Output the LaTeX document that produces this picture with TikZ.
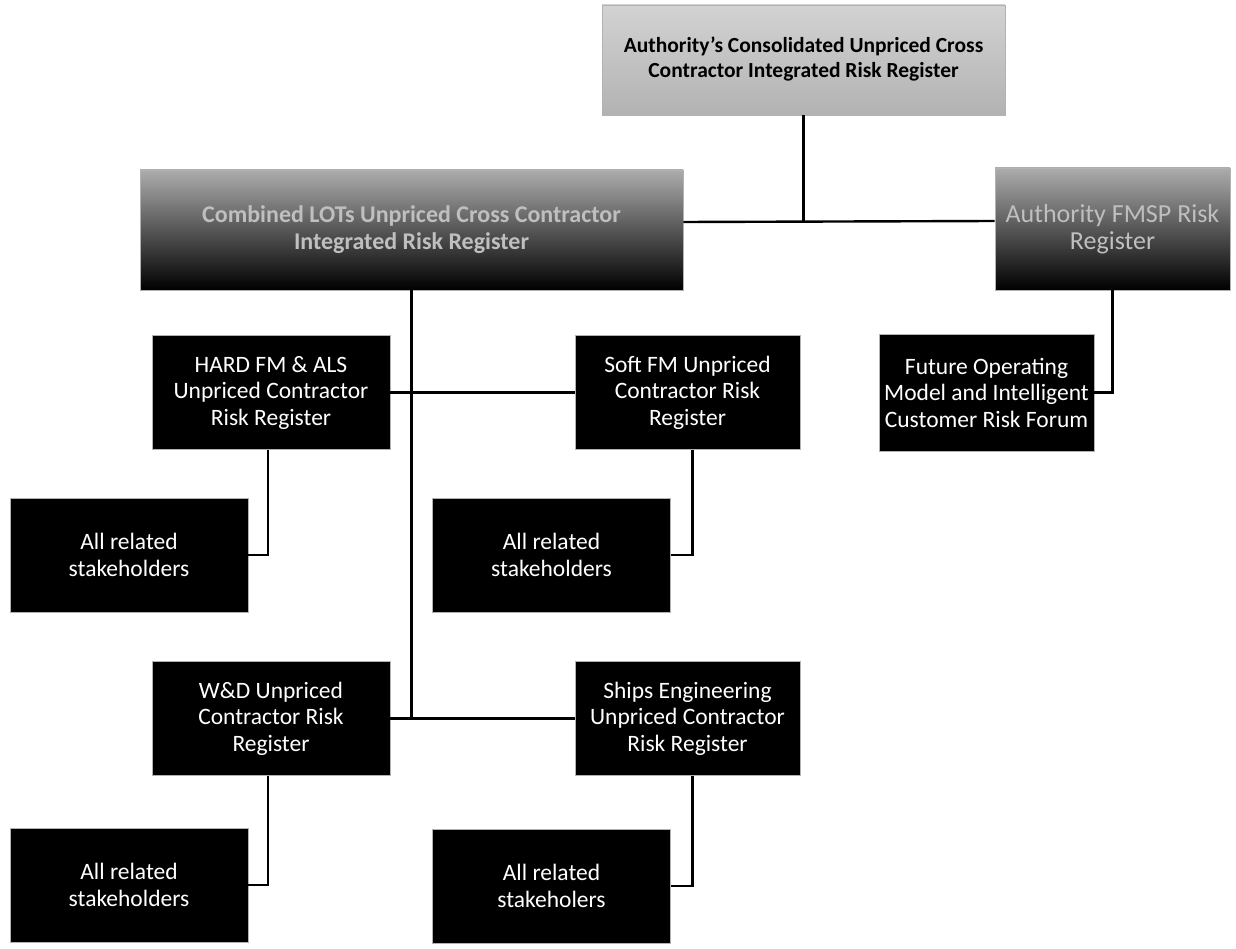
\documentclass[tikz,border=0pt]{standalone}
\usepackage{fontspec}
\setmainfont{Carlito}
\usetikzlibrary{calc}

\begin{document}
\begin{tikzpicture}[-, x=1pt, y=-1pt, line width=2.4pt]
  \tikzstyle{regbox}=[draw=gray!60, line width=0.8pt, fill=black, text=white, align=center, inner sep=0pt, font=\fontsize{23.5}{26.5}\selectfont]
  \tikzstyle{topbox}=[regbox, top color=gray!35, bottom color=gray!60, text=black, font=\bfseries\fontsize{21.5}{25}\selectfont]
  \tikzstyle{midbox}=[regbox, top color=gray!65, bottom color=black, text=gray!50]
  \tikzstyle{wide}=[minimum width=238pt, minimum height=114pt]
  \tikzstyle{narrow}=[minimum width=225pt, minimum height=114pt]
  \useasboundingbox[fill=white] (0,0) rectangle (1236,949);
  % top level
  \node[topbox, minimum width=403pt, minimum height=110pt] (auth) at (803.5,60) {\raisebox{-4pt}{\begin{tabular}{@{}c@{}}Authority's Consolidated Unpriced Cross\\Contractor Integrated Risk Register\end{tabular}}};
  % second level
  \node[midbox, font=\bfseries\fontsize{24}{27}\selectfont, minimum width=543pt, minimum height=120pt] (lots) at (411.5,230) {Combined LOTs Unpriced Cross Contractor\\Integrated Risk Register};
  \node[midbox, font=\fontsize{26}{27}\selectfont, minimum width=235pt, minimum height=122pt] (fmsp) at (1112.5,229) {Authority FMSP Risk\\Register};
  % contractor registers
  \node[regbox, wide]   (hard)  at (271,392.5)   {HARD FM \& ALS\\Unpriced Contractor\\Risk Register};
  \node[regbox, narrow] (soft)  at (687.5,392.5) {Soft FM Unpriced\\Contractor Risk\\Register};
  \node[regbox, minimum width=215pt, minimum height=117pt] (fom) at (986.5,392.5) {Future Operating\\Model and Intelligent\\Customer Risk Forum};
  \node[regbox, wide]   (wd)    at (271,718.5)   {W\&D Unpriced\\Contractor Risk\\Register};
  \node[regbox, narrow] (ships) at (687.5,718.5) {Ships Engineering\\Unpriced Contractor\\Risk Register};
  % stakeholders
  \node[regbox, wide] (stakeA) at (129,555)   {All related\\stakeholders};
  \node[regbox, wide] (stakeB) at (551.5,555) {All related\\stakeholders};
  \node[regbox, wide] (stakeC) at (129,885)   {All related\\stakeholders};
  \node[regbox, wide] (stakeD) at (551.5,886) {All related\\stakeholers};
  % connectors
  \path
    ([yshift=8pt]lots.east) edge ([yshift=8pt]fmsp.west)
    (hard) edge (soft)
    (wd) edge (ships);
  \draw (auth.south) -- ($(auth.south |- lots.east)+(0,-8)$);
  \draw (lots.south) -- (lots.south |- wd.east);
  \draw (fmsp.south) |- (fom.east);
  \draw ([xshift=-3pt]hard.south) |- (stakeA.east);
  \draw ([xshift=5pt]soft.south) |- (stakeB.east);
  \draw ([xshift=-3pt]wd.south) |- (stakeC.east);
  \draw ([xshift=5pt]ships.south) |- (stakeD.east);
\end{tikzpicture}
\end{document}
